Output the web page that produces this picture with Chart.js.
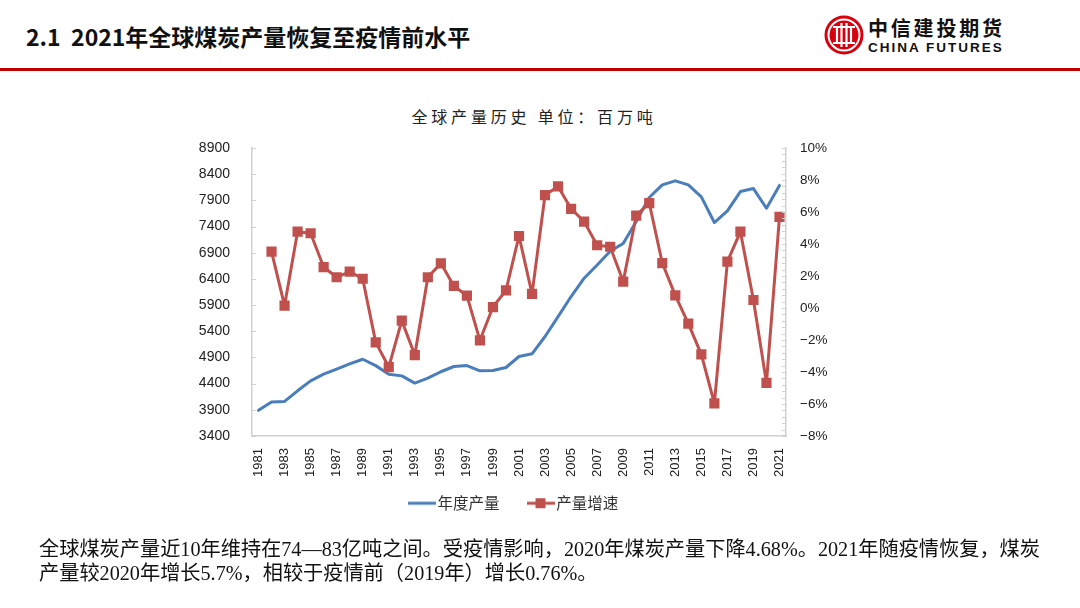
<!DOCTYPE html>
<html>
<head>
<meta charset="utf-8">
<script src="https://cdn.jsdelivr.net/npm/chart.js@4.4.1/dist/chart.umd.min.js"></script>
<style>
  html, body { margin: 0; padding: 0; background: #fff; }
  body { width: 1080px; height: 608px; position: relative; overflow: hidden; font-family: "Noto Sans CJK SC", sans-serif; }
  #hdr { position: absolute; left: 26px; top: 19px; font-size: 23px; font-weight: bold; color: #111; white-space: nowrap; }
  #rule { position: absolute; left: 0; top: 68px; width: 1080px; height: 3px; background: #c00000; }
  #logo { position: absolute; left: 824px; top: 15px; width: 40px; height: 40px; }
  #brand { position: absolute; left: 868px; top: 13px; font-size: 20px; font-weight: bold; color: #111; letter-spacing: 2.8px; white-space: nowrap; }
  #brand2 { position: absolute; left: 868px; top: 40px; font-family: "Liberation Sans", Arial, sans-serif; font-size: 13.5px; font-weight: bold; color: #111; letter-spacing: 2px; white-space: nowrap; }
  #ctitle { position: absolute; left: 334px; width: 400px; top: 104px; text-align: center; font-size: 16px; color: #222; letter-spacing: 3.8px; white-space: nowrap; }
  #wrap { position: absolute; left: 160px; top: 100px; width: 710px; height: 439px; }
  #note { position: absolute; left: 39px; top: 537px; width: 1030px; font-family: "Liberation Serif", "Noto Sans CJK SC", serif; font-size: 20.2px; line-height: 24px; color: #111; white-space: nowrap; }
</style>
</head>
<body>
<div id="hdr">2.1&nbsp;&nbsp;2021年全球煤炭产量恢复至疫情前水平</div>
<div id="rule"></div>
<svg id="logo" viewBox="0 0 40 40">
  <circle cx="20" cy="20" r="19.5" fill="#d7000f"/>
  <circle cx="20" cy="20" r="15.5" fill="none" stroke="#fff" stroke-width="2"/>
  <path d="M9 12 H31 M9 28 H31 M13 12 V28 M27 12 V28 M17.5 8 V32 M22.5 8 V32" stroke="#fff" stroke-width="2.2" fill="none"/>
</svg>
<div id="brand">中信建投期货</div>
<div id="brand2">CHINA FUTURES</div>
<div id="ctitle">全球产量历史 单位：百万吨</div>
<div id="wrap"><canvas id="c"></canvas></div>
<div id="note">全球煤炭产量近10年维持在74—83亿吨之间。受疫情影响，2020年煤炭产量下降4.68%。2021年随疫情恢复，煤炭<br>产量较2020年增长5.7%，相较于疫情前（2019年）增长0.76%。</div>
<script>
const years = ["1981","1982","1983","1984","1985","1986","1987","1988","1989","1990",
  "1991","1992","1993","1994","1995","1996","1997","1998","1999","2000",
  "2001","2002","2003","2004","2005","2006","2007","2008","2009","2010",
  "2011","2012","2013","2014","2015","2016","2017","2018","2019","2020","2021"];
const production = [3890, 4050, 4060, 4263, 4453, 4581, 4676, 4777, 4866, 4744,
  4581, 4548, 4410, 4505, 4627, 4727, 4746, 4645, 4650, 4708,
  4918, 4969, 5300, 5681, 6063, 6413, 6667, 6930, 7077, 7497,
  7955, 8197, 8273, 8197, 7968, 7477, 7700, 8068, 8125, 7750, 8185];
const growth = [null, 3.52, 0.15, 4.77, 4.67, 2.56, 1.92, 2.27, 1.83, -2.15,
  -3.69, -0.79, -2.94, 1.92, 2.79, 1.38, 0.77, -2.02, 0.06, 1.10,
  4.50, 0.88, 7.06, 7.60, 6.20, 5.40, 3.92, 3.83, 1.65, 5.77,
  6.56, 2.81, 0.79, -0.98, -2.90, -5.96, 2.90, 4.77, 0.50, -4.68, 5.70];
const seriesNames = ["年度产量", "产量增速"];
const leftTicks = {min: 3400, max: 8900, step: 500};
const rightTicks = {min: -8, max: 10, step: 2};

const BLUE = '#4a7ebb';
const RED = '#c0504d';
const AXIS = '#d0d0d0';

function makeIcon(withSquare, color) {
  const cv = document.createElement('canvas');
  cv.width = 28; cv.height = 12;
  const g = cv.getContext('2d');
  g.strokeStyle = color; g.lineWidth = 3;
  g.beginPath(); g.moveTo(0, 6); g.lineTo(28, 6); g.stroke();
  if (withSquare) { g.fillStyle = color; g.fillRect(9, 1, 10, 10); }
  return cv;
}
const icons = [makeIcon(false, BLUE), makeIcon(true, RED)];

const tickMarks = {
  id: 'tickMarks',
  afterDraw(chart) {
    const ctx = chart.ctx;
    const y = chart.scales.y, y1 = chart.scales.y1;
    ctx.save();
    ctx.strokeStyle = AXIS; ctx.lineWidth = 1;
    for (let v = leftTicks.min; v <= leftTicks.max; v += leftTicks.step) {
      const p = Math.round(y.getPixelForValue(v)) + 0.5;
      ctx.beginPath(); ctx.moveTo(y.right, p); ctx.lineTo(y.right + 4, p); ctx.stroke();
    }
    const minor = rightTicks.step / 5;
    for (let k = 0; k <= (rightTicks.max - rightTicks.min) / minor + 0.001; k++) {
      const v = rightTicks.min + k * minor;
      const p = Math.round(y1.getPixelForValue(v)) + 0.5;
      ctx.beginPath(); ctx.moveTo(y1.left, p); ctx.lineTo(y1.left - 4, p); ctx.stroke();
    }
    ctx.restore();
  }
};

// move the legend box up a little after layout (the axis box below keeps full label room)
const legendNudge = {
  id: 'legendNudge',
  afterLayout(chart) {
    const lg = chart.legend;
    if (!lg) return;
    lg.top -= 18; lg.bottom -= 18;
    lg.left += 2; lg.right += 2;
  }
};

new Chart(document.getElementById('c'), {
  type: 'line',
  data: {
    labels: years,
    datasets: [
      { label: seriesNames[0], data: production, yAxisID: 'y', borderColor: BLUE, backgroundColor: BLUE,
        borderWidth: 3, borderJoinStyle: 'round', borderCapStyle: 'round',
        pointRadius: 0, pointHoverRadius: 0, tension: 0, order: 2 },
      { label: seriesNames[1], data: growth, yAxisID: 'y1', borderColor: RED, backgroundColor: RED,
        borderWidth: 3, borderJoinStyle: 'round', borderCapStyle: 'round',
        pointRadius: 7.2, pointStyle: 'rect', pointBorderWidth: 0, pointBackgroundColor: RED,
        tension: 0, order: 1 }
    ]
  },
  options: {
    responsive: true,
    maintainAspectRatio: false,
    animation: false,
    layout: { padding: { top: 48, left: 32, right: 34, bottom: 0 } },
    plugins: {
      title: { display: false },
      tooltip: { enabled: false },
      legend: {
        position: 'bottom',
        labels: {
          usePointStyle: true,
          pointStyleWidth: 16,
          padding: 33,
          color: '#333',
          font: { family: '"Noto Sans CJK SC", sans-serif', size: 15.5 },
          sort: (a, b) => a.datasetIndex - b.datasetIndex,
          generateLabels: (chart) => chart.data.datasets.map((ds, i) => ({
            text: ds.label, pointStyle: icons[i], datasetIndex: i, hidden: false,
            fillStyle: ds.borderColor, strokeStyle: ds.borderColor, lineWidth: 0, fontColor: '#333'
          }))
        }
      }
    },
    scales: {
      x: {
        offset: true,
        grid: { display: false, drawTicks: false },
        border: { display: true, color: AXIS, width: 1.5 },
        afterFit: (s) => { s.height = 44.5; },
        ticks: {
          autoSkip: false, minRotation: 90, maxRotation: 90, padding: 12,
          color: '#222', font: { family: '"Liberation Sans", Arial, sans-serif', size: 13 },
          callback: (v, i) => (i % 2 === 0 ? years[i] : '')
        }
      },
      y: {
        position: 'left',
        min: leftTicks.min, max: leftTicks.max,
        grid: { display: false, drawTicks: false },
        border: { display: true, color: AXIS, width: 1.5 },
        afterFit: (s) => { s.width = 60; },
        ticks: { stepSize: leftTicks.step, padding: 22, color: '#222',
          font: { family: '"Liberation Sans", Arial, sans-serif', size: 14 },
          callback: (v) => String(v) }
      },
      y1: {
        position: 'right',
        min: rightTicks.min, max: rightTicks.max,
        grid: { display: false, drawTicks: false },
        border: { display: true, color: AXIS, width: 1.5 },
        afterFit: (s) => { s.width = 50; },
        ticks: { stepSize: rightTicks.step, padding: 14, color: '#222',
          font: { family: '"Liberation Sans", Arial, sans-serif', size: 13.5 },
          callback: (v) => (v < 0 ? '\u2212' + Math.abs(v) : v) + '%' }
      }
    }
  },
  plugins: [tickMarks, legendNudge]
});
</script>
</body>
</html>
